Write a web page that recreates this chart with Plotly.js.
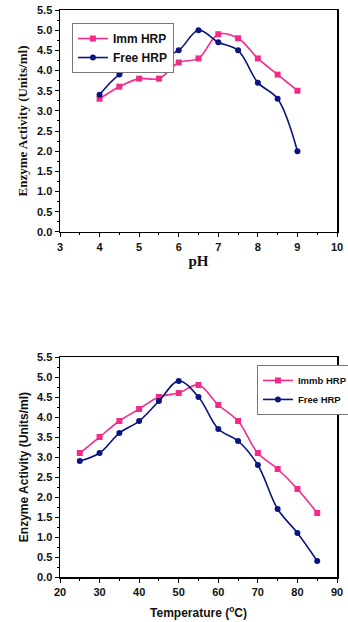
<!DOCTYPE html>
<html>
<head>
<meta charset="utf-8">
<script src="https://cdn.plot.ly/plotly-3.0.1.min.js"></script>
<style>html,body{margin:0;padding:0;background:#fff;}#chart{width:348px;height:622px;}</style>
</head>
<body>
<div id="chart"></div>
<script>
// pH data
const phValues = [4, 4.5, 5, 5.5, 6, 6.5, 7, 7.5, 8, 8.5, 9];
const phImm = [3.3, 3.6, 3.8, 3.8, 4.2, 4.3, 4.9, 4.8, 4.3, 3.9, 3.5];
const phFree = [3.4, 3.9, 4.1, 4.3, 4.5, 5.0, 4.7, 4.5, 3.7, 3.3, 2.0];
// Temperature data
const tempValues = [25, 30, 35, 40, 45, 50, 55, 60, 65, 70, 75, 80, 85];
const tempImmb = [3.1, 3.5, 3.9, 4.2, 4.5, 4.6, 4.8, 4.3, 3.9, 3.1, 2.7, 2.2, 1.6];
const tempFree = [2.9, 3.1, 3.6, 3.9, 4.4, 4.9, 4.5, 3.7, 3.4, 2.8, 1.7, 1.1, 0.4];

const PINK = '#F42A8B';
const NAVY = '#0A1580';

function tr(x, y, name, color, sym, xa, ya, leg) {
  return {
    x: x, y: y, name: name, type: 'scatter', mode: 'lines+markers',
    xaxis: xa, yaxis: ya, legend: leg,
    line: {color: color, width: 1.6, shape: 'spline', smoothing: 1},
    marker: {color: color, symbol: sym, size: 6}
  };
}

const data = [
  tr(phValues, phImm, 'Imm HRP', PINK, 'square', 'x', 'y', 'legend'),
  tr(phValues, phFree, 'Free HRP', NAVY, 'circle', 'x', 'y', 'legend'),
  tr(tempValues, tempImmb, 'Immb HRP', PINK, 'square', 'x2', 'y2', 'legend2'),
  tr(tempValues, tempFree, 'Free HRP', NAVY, 'circle', 'x2', 'y2', 'legend2')
];

const tickFont = {family: 'Liberation Sans, Arial, sans-serif', size: 11, color: '#111', weight: 'bold'};
function axBase() {
  return {
    showline: true, linecolor: '#000', linewidth: 1.5, mirror: true, automargin: false,
    ticks: 'outside', ticklen: 4, tickwidth: 1, tickcolor: '#000',
    showgrid: false, zeroline: false, tickfont: tickFont,
    minor: {ticks: 'outside', ticklen: 2, tickwidth: 1, tickcolor: '#000', showgrid: false}
  };
}

const xTop = Object.assign(axBase(), {
  range: [3, 10], dtick: 1, tick0: 3, anchor: 'y', domain: [0, 1],
  minor: Object.assign(axBase().minor, {dtick: 0.5}),
  title: {text: 'pH', font: {family: 'Liberation Serif, Times New Roman, serif', size: 15, weight: 'bold', color: '#111'}, standoff: 4}
});
const yTop = Object.assign(axBase(), {
  range: [0, 5.5], dtick: 0.5, tick0: 0, tickformat: '.1f', anchor: 'x', domain: [0.6085, 1],
  minor: Object.assign(axBase().minor, {dtick: 0.25}),
  title: {text: 'Enzyme Activity (Units/ml)', font: {family: 'Liberation Serif, Times New Roman, serif', size: 13, weight: 'bold', color: '#111'}, standoff: 6}
});
const xBot = Object.assign(axBase(), {
  range: [20, 90], dtick: 10, tick0: 20, anchor: 'y2', domain: [0, 1],
  minor: Object.assign(axBase().minor, {dtick: 5}),
  title: {text: 'Temperature (<sup>o</sup>C)', font: {family: 'Liberation Sans, Arial, sans-serif', size: 12, weight: 'bold', color: '#111'}, standoff: 12}
});
const yBot = Object.assign(axBase(), {
  range: [0, 5.5], dtick: 0.5, tick0: 0, tickformat: '.1f', anchor: 'x2', domain: [0, 0.388],
  minor: Object.assign(axBase().minor, {dtick: 0.25}),
  title: {text: 'Enzyme Activity (Units/ml)', font: {family: 'Liberation Sans, Arial, sans-serif', size: 12, weight: 'bold', color: '#111'}, standoff: 6}
});

const layout = {
  width: 348, height: 622,
  margin: {l: 60, r: 11, t: 10, b: 45, autoexpand: false},
  paper_bgcolor: '#fff', plot_bgcolor: '#fff',
  xaxis: xTop, yaxis: yTop, xaxis2: xBot, yaxis2: yBot,
  showlegend: true,
  legend: {
    x: 0.043, y: 0.977, xanchor: 'left', yanchor: 'top',
    bgcolor: '#fff', bordercolor: '#777', borderwidth: 1,
    font: {family: 'Liberation Sans, Arial, sans-serif', size: 12, weight: 'bold', color: '#111'},
    itemwidth: 30, tracegroupgap: 0
  },
  legend2: {
    x: 0.711, y: 0.374, xanchor: 'left', yanchor: 'top',
    bgcolor: '#fff', bordercolor: '#777', borderwidth: 1,
    font: {family: 'Liberation Sans, Arial, sans-serif', size: 9.5, weight: 'bold', color: '#111'},
    itemwidth: 30, tracegroupgap: 0
  }
};

Plotly.newPlot('chart', data, layout, {displayModeBar: false, staticPlot: true});
</script>
</body>
</html>
